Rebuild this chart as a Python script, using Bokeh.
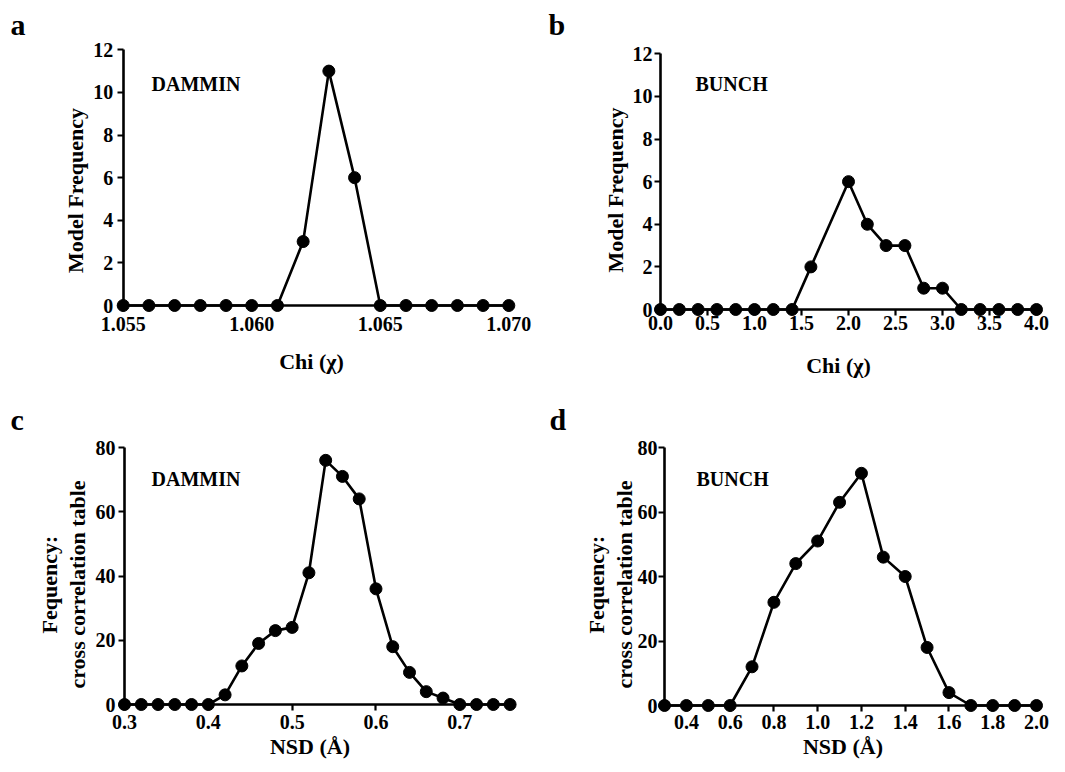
from bokeh.plotting import figure
from bokeh.layouts import column, row
from bokeh.models import Label, FixedTicker, LinearAxis
from bokeh.embed import file_html
from bokeh.resources import INLINE

# ---------------- data ----------------
a_chi = [1.055, 1.056, 1.057, 1.058, 1.059, 1.060, 1.061, 1.062,
         1.063, 1.064, 1.065, 1.066, 1.067, 1.068, 1.069, 1.070]
a_freq = [0, 0, 0, 0, 0, 0, 0, 3, 11, 6, 0, 0, 0, 0, 0, 0]

b_chi = [0.0, 0.2, 0.4, 0.6, 0.8, 1.0, 1.2, 1.4, 1.6, 2.0,
         2.2, 2.4, 2.6, 2.8, 3.0, 3.2, 3.4, 3.6, 3.8, 4.0]
b_freq = [0, 0, 0, 0, 0, 0, 0, 0, 2, 6, 4, 3, 3, 1, 1, 0, 0, 0, 0, 0]

c_nsd = [0.30, 0.32, 0.34, 0.36, 0.38, 0.40, 0.42, 0.44, 0.46, 0.48, 0.50, 0.52,
         0.54, 0.56, 0.58, 0.60, 0.62, 0.64, 0.66, 0.68, 0.70, 0.72, 0.74, 0.76]
c_freq = [0, 0, 0, 0, 0, 0, 3, 12, 19, 23, 24, 41, 76, 71, 64, 36, 18, 10, 4, 2, 0, 0, 0, 0]

d_nsd = [0.3, 0.4, 0.5, 0.6, 0.7, 0.8, 0.9, 1.0, 1.1, 1.2,
         1.3, 1.4, 1.5, 1.6, 1.7, 1.8, 1.9, 2.0]
d_freq = [0, 0, 0, 0, 12, 32, 44, 51, 63, 72, 46, 40, 18, 4, 0, 0, 0, 0]

a_xticks = [1.055, 1.060, 1.065, 1.070]
b_xticks = [0.0, 0.5, 1.0, 1.5, 2.0, 2.5, 3.0, 3.5, 4.0]
c_xticks = [0.3, 0.4, 0.5, 0.6, 0.7]
d_xticks = [0.4, 0.6, 0.8, 1.0, 1.2, 1.4, 1.6, 1.8, 2.0]
chi_yticks = [0, 2, 4, 6, 8, 10, 12]
nsd_yticks = [0, 20, 40, 60, 80]

a_xlabels = ["1.055", "1.060", "1.065", "1.070"]
b_xlabels = ["0.0", "0.5", "1.0", "1.5", "2.0", "2.5", "3.0", "3.5", "4.0"]
c_xlabels = ["0.3", "0.4", "0.5", "0.6", "0.7"]
d_xlabels = ["0.4", "0.6", "0.8", "1.0", "1.2", "1.4", "1.6", "1.8", "2.0"]

FONT = "Liberation Serif"


def lin(v0, p0, v1, p1):
    return lambda p: v0 + (p - p0) * (v1 - v0) / (p1 - p0)


def style_text(ax):
    ax.major_label_text_font = FONT
    ax.major_label_text_font_style = "bold"
    ax.major_label_text_font_size = "20px"
    ax.major_label_text_color = "black"
    ax.axis_label_text_font = FONT
    ax.axis_label_text_font_style = "bold"
    ax.axis_label_text_font_size = "22px"
    ax.axis_label_text_color = "black"


def title_axis(ax, label, bounds, standoff):
    # an axis that only carries the axis title
    ax.ticker = FixedTicker(ticks=[], minor_ticks=[])
    ax.axis_line_color = None
    ax.major_tick_in = 0
    ax.major_tick_out = 0
    ax.minor_tick_in = 0
    ax.minor_tick_out = 0
    ax.bounds = bounds
    ax.axis_label = label
    ax.axis_label_standoff = standoff
    style_text(ax)


def data_axis(ax, ticks, labels, bounds, standoff):
    ax.ticker = FixedTicker(ticks=ticks, minor_ticks=[])
    ax.major_label_overrides = {t: l for t, l in zip(ticks, labels)}
    ax.bounds = bounds
    ax.axis_line_width = 2.6
    ax.axis_line_color = "black"
    ax.major_tick_line_width = 2.2
    ax.major_tick_line_color = "black"
    ax.major_tick_in = 0
    ax.major_tick_out = 6
    ax.minor_tick_line_color = None
    ax.major_label_standoff = standoff
    ax.axis_label = None
    style_text(ax)


def panel(origin, size, frame, xcal, ycal, xs, ys, xticks, xlabels, yticks,
          xbounds, xtitle, ytitles, letter, letter_x, name, name_pos,
          x_std, y_std, xt_std, yt_std):
    ox, oy = origin
    w, h = size
    fl, ft, fr, fb = frame
    fx = lin(*xcal)
    fy = lin(*ycal)
    p = figure(frame_width=fr - fl, frame_height=fb - ft,
               min_border_left=fl - ox, min_border_right=ox + w - fr,
               min_border_top=ft - oy, min_border_bottom=oy + h - fb,
               x_range=(fx(fl), fx(fr)), y_range=(fy(fb), fy(ft)),
               output_backend="svg", toolbar_location=None,
               background_fill_color="white", border_fill_color="white")
    p.outline_line_color = None
    p.grid.visible = False

    p.line(xs, ys, line_color="black", line_width=2.6)
    p.scatter(xs, ys, size=12, fill_color="black", line_color="black")

    ybounds = (yticks[0], yticks[-1])
    # axis titles on the frame edges
    title_axis(p.xaxis[0], xtitle, xbounds, xt_std)
    title_axis(p.yaxis[0], ytitles[0], ybounds, yt_std)
    for extra in ytitles[1:]:
        ax = LinearAxis()
        title_axis(ax, extra, ybounds, 0)
        p.add_layout(ax, "left")

    # the drawn axes, crossing at the data origin
    xa = LinearAxis(fixed_location=0)
    data_axis(xa, xticks, xlabels, xbounds, x_std)
    p.add_layout(xa, "below")
    ya = LinearAxis(fixed_location=xbounds[0])
    data_axis(ya, yticks, [str(t) for t in yticks], ybounds, y_std)
    p.add_layout(ya, "left")

    # panel letter
    p.title.text = letter
    p.title.align = "left"
    p.title.offset = letter_x - fl
    p.title.standoff = 0
    p.title.text_font = FONT
    p.title.text_font_style = "bold"
    p.title.text_font_size = "30px"
    p.title.text_color = "black"

    p.add_layout(Label(x=fx(name_pos[0]), y=fy(name_pos[1]), text=name,
                       text_font=FONT, text_font_style="bold",
                       text_font_size="20px", text_color="black",
                       text_baseline="alphabetic", text_align="left"))
    return p


chi_title = "Chi (\u03c7)"
nsd_title = "NSD (\u00c5)"
mf_titles = ["Model Frequency"]
cc_titles = ["cross correlation table", "Fequency:"]

pa = panel((0, 0), (540, 378), (87, 40, 535, 340),
           (1.055, 122.7, 1.070, 508.3), (0, 305, 12, 49.3),
           a_chi, a_freq, a_xticks, a_xlabels, chi_yticks,
           (1.055, 1.070), chi_title, mf_titles,
           "a", 10, "DAMMIN", (151, 83.3),
           x_std=5, y_std=4, xt_std=8, yt_std=0)

pb = panel((540, 0), (509, 378), (627, 40, 1049, 339),
           (0.0, 660, 4.0, 1036), (0, 309, 12, 53.3),
           b_chi, b_freq, b_xticks, b_xlabels, chi_yticks,
           (0.0, 4.0), chi_title, mf_titles,
           "b", 548, "BUNCH", (695, 83.3),
           x_std=0, y_std=2, xt_std=13, yt_std=0)

pc = panel((0, 378), (540, 378), (89, 433, 530, 731),
           (0.3, 124, 0.7, 459.3), (0, 702, 80, 445),
           c_nsd, c_freq, c_xticks, c_xlabels, nsd_yticks,
           (0.3, 0.76), nsd_title, cc_titles,
           "c", 10, "DAMMIN", (151, 476),
           x_std=4, y_std=3, xt_std=0, yt_std=0)

pd_ = panel((540, 378), (509, 378), (636, 433, 1049, 731),
            (0.3, 664, 2.0, 1036), (0, 703, 80, 445),
            d_nsd, d_freq, d_xticks, d_xlabels, nsd_yticks,
            (0.3, 2.0), nsd_title, cc_titles,
            "d", 549, "BUNCH", (696, 476),
            x_std=3, y_std=1, xt_std=0, yt_std=0)

layout = column(row(pa, pb), row(pc, pd_))

open("out.html", "w").write(file_html(layout, INLINE))
